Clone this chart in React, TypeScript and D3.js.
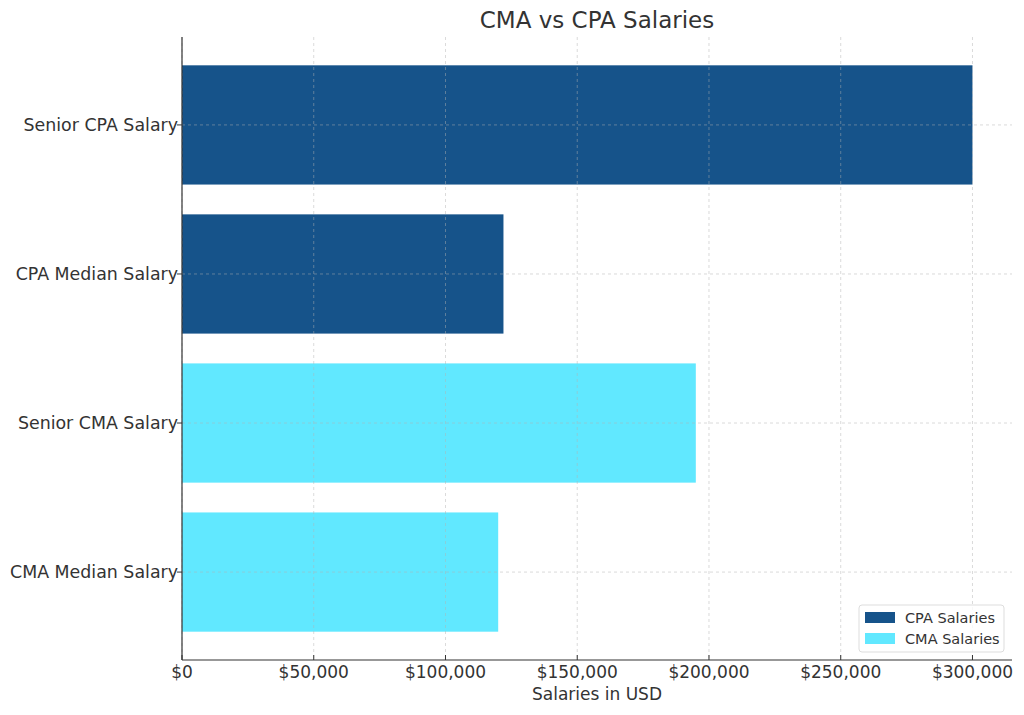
import React from 'react';
import * as d3 from 'd3';

const categories = ['CMA Median Salary', 'Senior CMA Salary', 'CPA Median Salary', 'Senior CPA Salary'];
const salaries = [120000, 195000, 122000, 300000];
const groups = ['CMA', 'CMA', 'CPA', 'CPA'];
const xTicks = [0, 50000, 100000, 150000, 200000, 250000, 300000];
const legendItems = [
  { key: 'CPA', label: 'CPA Salaries' },
  { key: 'CMA', label: 'CMA Salaries' },
];

const W = 1024;
const H = 715;
const margin = { top: 37, right: 12, bottom: 55, left: 182 };
const font = "'DejaVu Sans', sans-serif";
const colors: Record<string, string> = { CPA: '#16538a', CMA: '#61e8ff' };

export default function App() {
  const innerW = W - margin.left - margin.right;
  const innerH = H - margin.top - margin.bottom;

  const x = d3.scaleLinear().domain([0, 315000]).range([0, innerW]);
  const y = d3.scaleLinear().domain([-0.59, 3.59]).range([innerH, 0]);
  const barH = y(0) - y(0.8);
  const fmt = (v: number) => '$' + d3.format(',')(v);

  return (
    <div style={{ position: 'absolute', left: 0, top: 0 }}>
      <svg width={W} height={H} style={{ display: 'block', background: '#fff' }} fontFamily={font}>
        <text x={margin.left + innerW / 2} y={28} textAnchor="middle" fontSize={23} fill="#333">
          CMA vs CPA Salaries
        </text>
        <g transform={`translate(${margin.left},${margin.top})`}>
          {categories.map((c, i) => (
            <rect
              key={c}
              x={0}
              y={y(i) - barH / 2}
              width={x(salaries[i])}
              height={barH}
              fill={colors[groups[i]]}
            />
          ))}
          {/* grid above bars */}
          {xTicks.map(t => (
            <line key={'gx' + t} x1={x(t)} x2={x(t)} y1={0} y2={innerH}
              stroke="#b0b0b0" strokeOpacity={0.6} strokeWidth={0.8} strokeDasharray="3,3" />
          ))}
          {categories.map((c, i) => (
            <line key={'gy' + c} x1={0} x2={innerW} y1={y(i)} y2={y(i)}
              stroke="#b0b0b0" strokeOpacity={0.6} strokeWidth={0.8} strokeDasharray="3,3" />
          ))}
          {/* x axis */}
          <line x1={0} x2={innerW} y1={innerH} y2={innerH} stroke="#333" strokeWidth={1.2} />
          {xTicks.map(t => (
            <g key={'tx' + t} transform={`translate(${x(t)},${innerH})`}>
              <line y1={0} y2={-5} stroke="#333" strokeWidth={1} />
              <text y={18} textAnchor="middle" fontSize={17} fill="#333">{fmt(t)}</text>
            </g>
          ))}
          <text x={innerW / 2} y={innerH + 40} textAnchor="middle" fontSize={17} fill="#333">
            Salaries in USD
          </text>
          {/* y axis */}
          <line x1={0} x2={0} y1={0} y2={innerH} stroke="#333" strokeWidth={1.2} />
          {categories.map((c, i) => (
            <g key={'ty' + c} transform={`translate(0,${y(i)})`}>
              <line x1={0} x2={-5} stroke="#333" strokeWidth={1} />
              <text x={-4} dy="0.35em" textAnchor="end" fontSize={17.4} fill="#333">{c}</text>
            </g>
          ))}
          {/* legend */}
          <g transform={`translate(${innerW - 153},${innerH - 55})`}>
            <rect x={0} y={0} width={145} height={47} rx={3} fill="#fff" fillOpacity={0.8} stroke="#ddd" />
            {legendItems.map((d, i) => (
              <g key={d.key} transform={`translate(6,${13 + i * 21})`}>
                <rect x={0} y={-6} width={30} height={11} fill={colors[d.key]} />
                <text x={40} dy="0.35em" fontSize={14.5} fill="#333">{d.label}</text>
              </g>
            ))}
          </g>
        </g>
      </svg>
    </div>
  );
}
